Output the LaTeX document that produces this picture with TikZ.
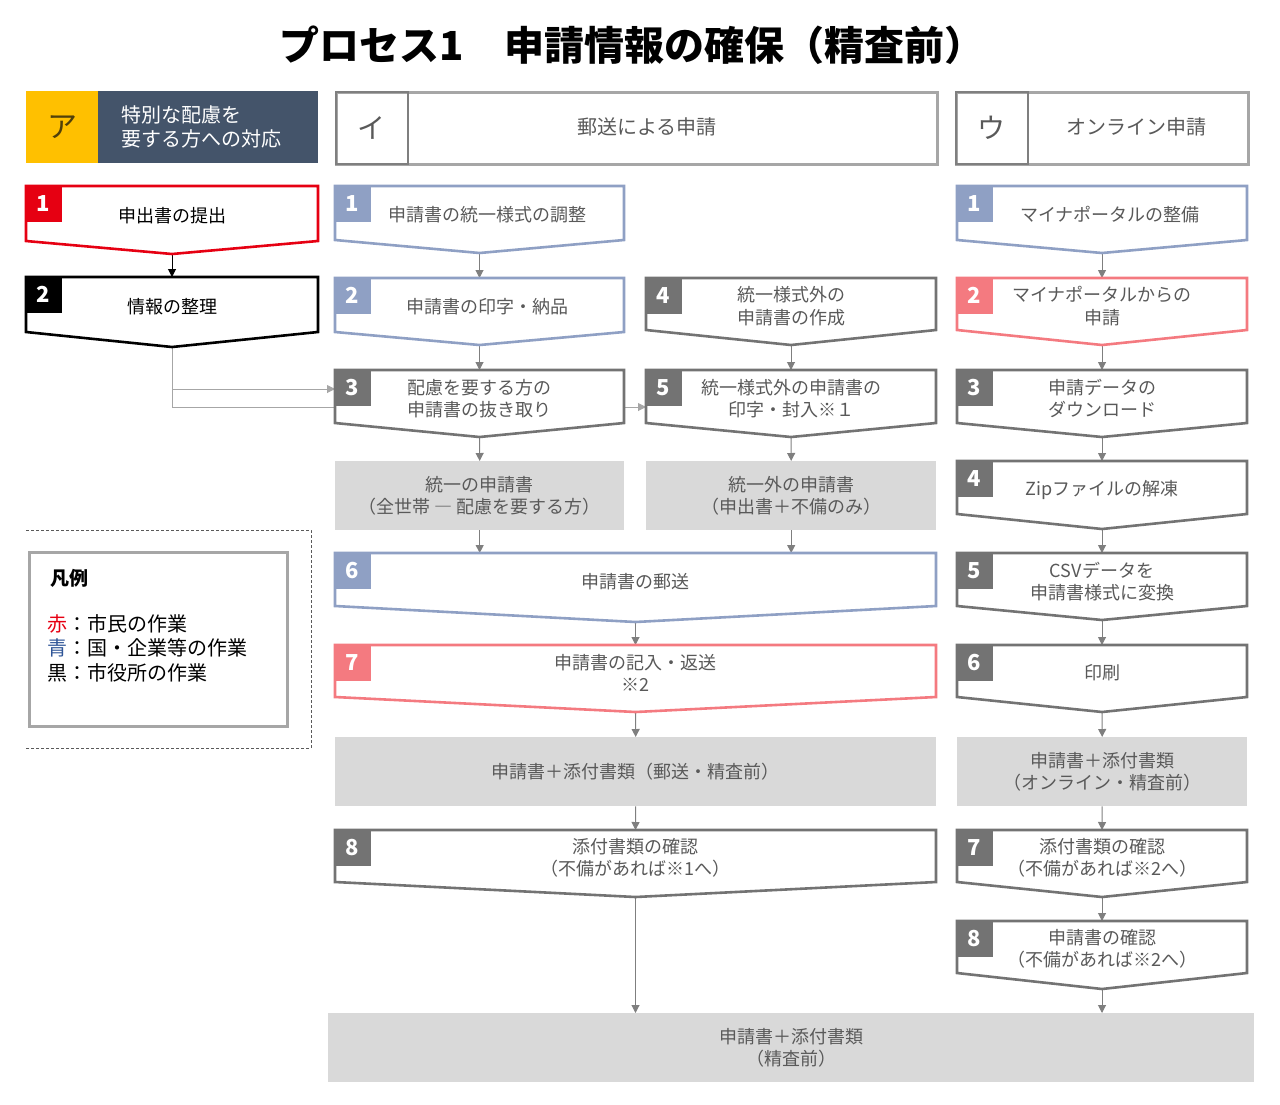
\documentclass[tikz,border=0pt]{standalone}
\usepackage{fontspec}
\setmainfont{Noto Sans CJK JP}
\usetikzlibrary{arrows.meta}
\usetikzlibrary{backgrounds}
\definecolor{stepred}{HTML}{E60012}
\definecolor{steppink}{HTML}{F47A80}
\definecolor{stepblue}{HTML}{8FA0C4}
\definecolor{stepgray}{HTML}{737373}
\definecolor{textgray}{HTML}{595959}
\definecolor{boxgray}{HTML}{D9D9D9}
\definecolor{headslate}{HTML}{44546A}
\definecolor{headyellow}{HTML}{FFC000}
\definecolor{framegray}{HTML}{A6A6A6}
\definecolor{linkgray}{HTML}{7F7F7F}
\definecolor{legendblue}{HTML}{2F5597}
\tikzset{
    stepline/.style = {line width=2.6pt, fill=white, line join=miter},
    badge/.style = {anchor=north west, minimum width=37pt, minimum height=37pt, inner sep=0pt, text=white, font=\fontsize{22}{22}\selectfont\bfseries},
    steptext/.style = {align=center, text=textgray, font=\fontsize{18}{22.5}\selectfont},
    datbox/.style = {anchor=north west, fill=boxgray, align=center, inner sep=0pt, text=textgray, font=\fontsize{18}{22.5}\selectfont},
    headframe/.style = {anchor=north west, draw=framegray, line width=3pt, minimum height=72pt, inner sep=0pt},
    headkey/.style = {anchor=north west, draw=linkgray, line width=1.6pt, minimum size=72pt, inner sep=0pt, text=textgray, font=\fontsize{28}{28}\selectfont},
    headtext/.style = {text=textgray, font=\fontsize{20}{24}\selectfont},
    edgen/.style = {-{Triangle[width=8pt,length=8pt]}, line width=1pt, black},
    edgeg/.style = {-{Triangle[width=8pt,length=8pt]}, line width=1pt, linkgray},
    edgel/.style = {-{Triangle[width=8pt,length=8pt]}, line width=1pt, framegray},
    legdash/.style = {line width=1pt, textgray, dash pattern=on 3pt off 2pt},
}
% chevron step: name, left, right, top, side, tip, colour, number, text
\newcommand{\stepbox}[9]{%
  \draw[stepline, draw=#7] (#2,#4) -- (#3,#4) -- (#3,#5) -- ({(#2+#3)/2},#6) -- (#2,#5) -- cycle;
  \node[badge, fill=#7] (#1-num) at ({#2-1.3},{#4-1.3}) {#8};
  \node[steptext] (#1) at ({(#2+#3)/2},{(#4+#5)/2+2}) {#9};
  \coordinate (#1-in) at ({(#2+#3)/2},#4);
  \coordinate (#1-out) at ({(#2+#3)/2},#6);
}
\begin{document}
\begin{tikzpicture}[x=1pt,y=-1pt]
\useasboundingbox (0,0) rectangle (1280,1104);
%
\node[font=\fontsize{40}{40}\selectfont\bfseries] (title) at (632,45) {プロセス1　申請情報の確保（精査前）};
%
% headers
\node[anchor=north west, fill=headslate, minimum width=292pt, minimum height=72pt, inner sep=0pt] (hA) at (26,91) {};
\node[anchor=north west, fill=headyellow, minimum size=72pt, inner sep=0pt, text={rgb,255:red,80;green,64;blue,10}, font=\fontsize{30}{30}\selectfont] (hA-key) at (26,91) {ア};
\node[anchor=west, align=left, text=white, font=\fontsize{20}{24}\selectfont] (hA-text) at (118,127) {特別な配慮を\\要する方への対応};
\node[headframe, minimum width=601pt] (hB) at (335,91) {};
\node[headkey] (hB-key) at (335,91) {イ};
\node[headtext] (hB-text) at (647,127) {郵送による申請};
\node[headframe, minimum width=292pt] (hC) at (955,91) {};
\node[headkey] (hC-key) at (955,91) {ウ};
\node[headtext] (hC-text) at (1136,127) {オンライン申請};
%
% column a
\stepbox{a1}{26}{318}{186}{241}{254}{stepred}{1}{\textcolor{black}{申出書の提出}}
\stepbox{a2}{26}{318}{277}{332}{347}{black}{2}{\textcolor{black}{情報の整理}}
%
% column i
\stepbox{i1}{335}{624}{186}{240}{253}{stepblue}{1}{\hspace*{16pt}申請書の統一様式の調整}
\stepbox{i2}{335}{624}{278}{332}{345}{stepblue}{2}{\hspace*{16pt}申請書の印字・納品}
\stepbox{i3}{335}{624}{370}{423}{437}{stepgray}{3}{配慮を要する方の\\申請書の抜き取り}
\stepbox{i4}{646}{936}{278}{330}{345}{stepgray}{4}{統一様式外の\\申請書の作成}
\stepbox{i5}{646}{936}{370}{423}{437}{stepgray}{5}{統一様式外の申請書の\\印字・封入※１}
\node[datbox, minimum width=289pt, minimum height=69pt] (iuni) at (335,461) {統一の申請書\\（全世帯 ― 配慮を要する方）};
\node[datbox, minimum width=290pt, minimum height=69pt] (inon) at (646,461) {統一外の申請書\\（申出書＋不備のみ）};
\stepbox{i6}{335}{936}{553}{606}{622}{stepblue}{6}{申請書の郵送}
\stepbox{i7}{335}{936}{645}{697}{712}{steppink}{7}{申請書の記入・返送\\※2}
\node[datbox, minimum width=601pt, minimum height=69pt] (ipost) at (335,737) {申請書＋添付書類（郵送・精査前）};
\stepbox{i8}{335}{936}{830}{882}{897}{stepgray}{8}{添付書類の確認\\（不備があれば※1へ）}
%
% column u
\stepbox{u1}{957}{1247}{186}{240}{253}{stepblue}{1}{\hspace*{16pt}マイナポータルの整備}
\stepbox{u2}{957}{1247}{278}{330}{345}{steppink}{2}{マイナポータルからの\\申請}
\stepbox{u3}{957}{1247}{370}{423}{437}{stepgray}{3}{申請データの\\ダウンロード}
\stepbox{u4}{957}{1247}{461}{514}{529}{stepgray}{4}{Zipファイルの解凍}
\stepbox{u5}{957}{1247}{553}{606}{620}{stepgray}{5}{CSVデータを\\申請書様式に変換}
\stepbox{u6}{957}{1247}{645}{697}{712}{stepgray}{6}{印刷}
\node[datbox, minimum width=290pt, minimum height=69pt] (udata) at (957,737) {申請書＋添付書類\\（オンライン・精査前）};
\stepbox{u7}{957}{1247}{830}{882}{897}{stepgray}{7}{添付書類の確認\\（不備があれば※2へ）}
\stepbox{u8}{957}{1247}{921}{973}{989}{stepgray}{8}{申請書の確認\\（不備があれば※2へ）}
%
\node[datbox, minimum width=926pt, minimum height=69pt] (all) at (328,1013) {申請書＋添付書類\\（精査前）};
%
% legend
\draw[legdash] (26,530) -- (311,530) -- (311,748) -- (26,748);
\node[anchor=north west, draw=framegray, line width=3pt, minimum width=258pt, minimum height=174pt] (legend) at (28,551) {};
\node[anchor=west, font=\fontsize{19}{19}\selectfont\bfseries] (legtitle) at (47,578) {凡例};
\node[anchor=north west, align=left, inner sep=0pt, font=\fontsize{20}{24.5}\selectfont] (legtext) at (47,614) {\textcolor{stepred}{赤}：市民の作業\\\textcolor{legendblue}{青}：国・企業等の作業\\黒：市役所の作業};
%
\coordinate (i3-entry) at (335,389);
\coordinate (i5-entry) at (646,407);
%
\begin{pgfonlayer}{background}
\draw[edgen] (a1-out) -- (a2-in);
\draw[edgel] (a2-out) |- (i3-entry);
\draw[edgel] (a2-out) |- (i5-entry);
\draw[edgeg] (i1-out) -- (i2-in);
\draw[edgeg] (i2-out) -- (i3-in);
\draw[edgeg] (i3-out) -- (iuni.north);
\draw[edgeg] (i4-out) -- (i5-in);
\draw[edgeg] (i5-out) -- (inon.north);
\draw[edgeg] (iuni.south) -- (iuni.south |- i6-in);
\draw[edgeg] (inon.south) -- (inon.south |- i6-in);
\draw[edgeg] (i6-out) -- (i7-in);
\draw[edgeg] (i7-out) -- (ipost.north);
\draw[edgeg] (ipost.south) -- (i8-in);
\draw[edgeg] (i8-out) -- (i8-out |- all.north);
\draw[edgeg] (u1-out) -- (u2-in);
\draw[edgeg] (u2-out) -- (u3-in);
\draw[edgeg] (u3-out) -- (u4-in);
\draw[edgeg] (u4-out) -- (u5-in);
\draw[edgeg] (u5-out) -- (u6-in);
\draw[edgeg] (u6-out) -- (udata.north);
\draw[edgeg] (udata.south) -- (u7-in);
\draw[edgeg] (u7-out) -- (u8-in);
\draw[edgeg] (u8-out) -- (u8-out |- all.north);
\end{pgfonlayer}

\end{tikzpicture}
\end{document}
